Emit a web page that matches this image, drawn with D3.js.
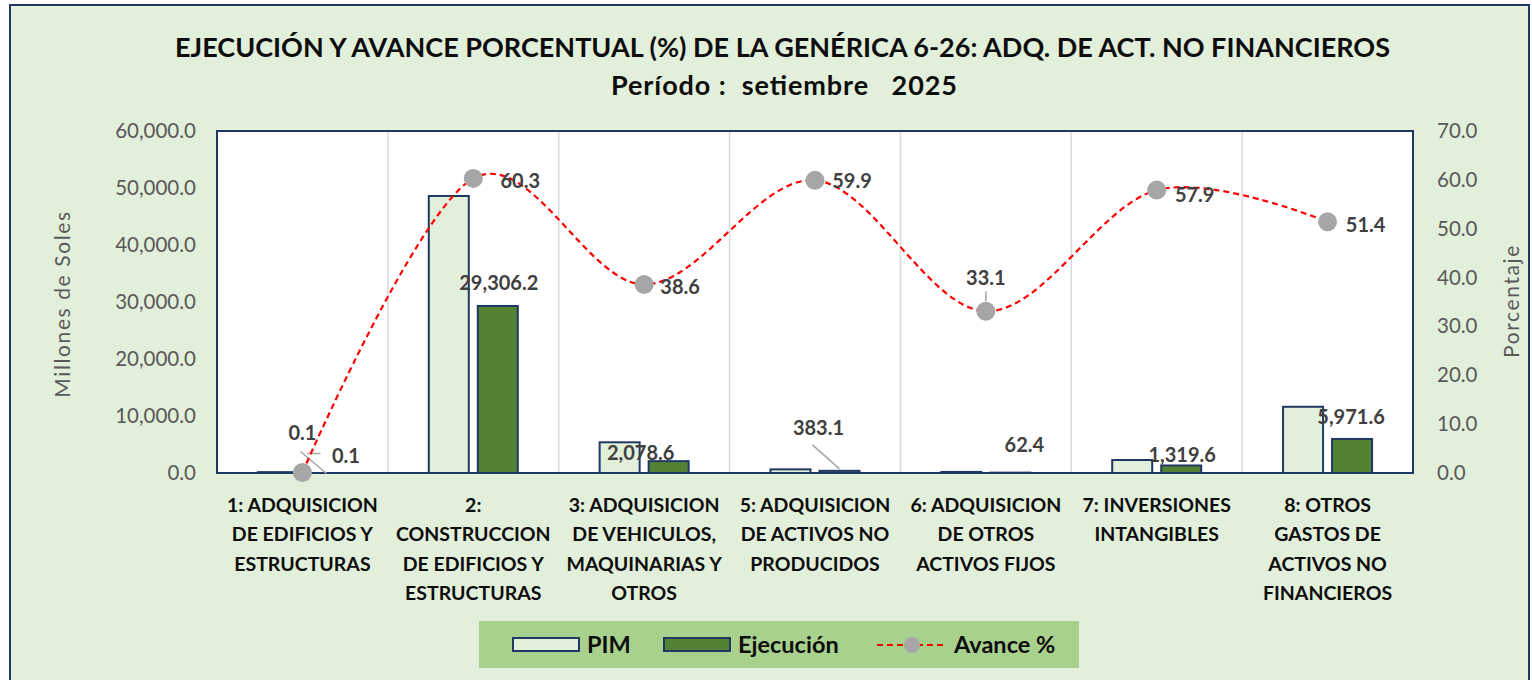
<!DOCTYPE html>
<html>
<head>
<meta charset="utf-8">
<script src="https://cdn.jsdelivr.net/npm/d3@7"></script>
<style>
  body { margin: 0; background: #fff; }
  svg text { font-family: Lato, 'Open Sans', sans-serif; }
</style>
</head>
<body>
<div id="chart"></div>
<script>
// categories (multi-line labels) and values, millones de soles
const categories = [
  ['1: ADQUISICION', 'DE EDIFICIOS Y', 'ESTRUCTURAS'],
  ['2:', 'CONSTRUCCION', 'DE EDIFICIOS Y', 'ESTRUCTURAS'],
  ['3: ADQUISICION', 'DE VEHICULOS,', 'MAQUINARIAS Y', 'OTROS'],
  ['5: ADQUISICION', 'DE ACTIVOS NO', 'PRODUCIDOS'],
  ['6: ADQUISICION', 'DE OTROS', 'ACTIVOS FIJOS'],
  ['7: INVERSIONES', 'INTANGIBLES'],
  ['8: OTROS', 'GASTOS DE', 'ACTIVOS NO', 'FINANCIEROS']
];
const pim = [150, 48600, 5385, 640, 189, 2279, 11618];
const ejecucion = [0.1, 29306.2, 2078.6, 383.1, 62.4, 1319.6, 5971.6];
const avance = [0.1, 60.3, 38.6, 59.9, 33.1, 57.9, 51.4];
const leftTicks = [0, 10000, 20000, 30000, 40000, 50000, 60000];
const rightTicks = [0, 10, 20, 30, 40, 50, 60, 70];

// label offsets (relative to anchor point) for the data labels
const ejecLabelPos = [[19, -18], [1, -24], [-28, -9], [-21, -44], [14, -29], [1, -11], [-1, -23]];
const avLabelPos = [[0, -41], [47, 2], [36, 2], [37, 0], [0, -34], [38, 4], [38, 2]];

(function () {
  const W = 1532, H = 680;
  const m = { left: 217, right: 1413, top: 131, bottom: 473 };
  const navy = '#1F3864';

  const svg = d3.select('#chart').append('svg').attr('width', W).attr('height', H);

  svg.append('rect').attr('x', 10).attr('y', 5).attr('width', 1519).attr('height', 700)
    .attr('fill', '#E2EFDA').attr('stroke', navy).attr('stroke-width', 2);

  // titles
  svg.append('text').attr('x', 782.5).attr('y', 57).attr('text-anchor', 'middle')
    .style('font-size', '27px').style('font-weight', 'bold').attr('fill', '#0D0D0D')
    .attr('textLength', 1215).attr('lengthAdjust', 'spacing')
    .text('EJECUCIÓN Y AVANCE PORCENTUAL (%) DE LA GENÉRICA 6-26: ADQ. DE ACT. NO FINANCIEROS');
  svg.append('text').attr('x', 784).attr('y', 95).attr('text-anchor', 'middle')
    .style('font-size', '27px').style('font-weight', 'bold').attr('fill', '#0D0D0D')
    .attr('textLength', 346).attr('lengthAdjust', 'spacing')
    .style('white-space', 'pre').text('Período :  setiembre   2025');

  const x0 = d3.scaleBand().domain(d3.range(categories.length)).range([m.left, m.right]);
  const cw = x0.bandwidth();
  const x1 = d3.scaleBand().domain(['pim', 'ejec']).range([cw / 2 - 44.5, cw / 2 + 44.5]).paddingInner(0.1837);
  const yL = d3.scaleLinear().domain([0, 60000]).range([m.bottom, m.top]);
  const yR = d3.scaleLinear().domain([0, 70]).range([m.bottom, m.top]);

  // plot area
  svg.append('rect').attr('x', m.left).attr('y', m.top).attr('width', m.right - m.left).attr('height', m.bottom - m.top)
    .attr('fill', '#fff');

  // vertical category separators
  svg.append('g').selectAll('line').data(d3.range(1, categories.length)).join('line')
    .attr('x1', d => x0(d)).attr('x2', d => x0(d)).attr('y1', m.top).attr('y2', m.bottom)
    .attr('stroke', '#D9D9D9').attr('stroke-width', 1.5);

  // axes
  const axL = svg.append('g').attr('transform', `translate(${m.left},0)`)
    .call(d3.axisLeft(yL).tickValues(leftTicks).tickFormat(d3.format(',.1f')).tickSize(0).tickPadding(21));
  const axR = svg.append('g').attr('transform', `translate(${m.right},0)`)
    .call(d3.axisRight(yR).tickValues(rightTicks).tickFormat(d3.format('.1f')).tickSize(0).tickPadding(24));
  [axL, axR].forEach(a => {
    a.select('.domain').remove();
    a.selectAll('text').style('font-size', '20.5px').attr('fill', '#595959').style('font-family', 'Lato, sans-serif');
  });

  svg.append('text').attr('transform', 'translate(70,304) rotate(-90)').attr('text-anchor', 'middle')
    .style('font-size', '21px').style('letter-spacing', '1.6px').attr('fill', '#595959').text('Millones de Soles');
  svg.append('text').attr('transform', 'translate(1519,301) rotate(-90)').attr('text-anchor', 'middle')
    .style('font-size', '21px').style('letter-spacing', '1.6px').attr('fill', '#595959').text('Porcentaje');

  // bars
  const g = svg.append('g');
  g.selectAll('rect.pim').data(pim).join('rect').attr('class', 'pim')
    .attr('x', (d, i) => x0(i) + x1('pim')).attr('width', x1.bandwidth())
    .attr('y', d => yL(d)).attr('height', d => m.bottom - yL(d))
    .attr('fill', '#E2EFDA').attr('stroke', navy).attr('stroke-width', 2);
  g.selectAll('rect.ejec').data(ejecucion).join('rect').attr('class', 'ejec')
    .attr('x', (d, i) => x0(i) + x1('ejec')).attr('width', x1.bandwidth())
    .attr('y', d => yL(d)).attr('height', d => m.bottom - yL(d))
    .attr('fill', '#548235').attr('stroke', navy).attr('stroke-width', 2);

  // plot border
  svg.append('rect').attr('x', m.left).attr('y', m.top).attr('width', m.right - m.left).attr('height', m.bottom - m.top)
    .attr('fill', 'none').attr('stroke', navy).attr('stroke-width', 2);

  // leader lines
  const lead = svg.append('g').attr('stroke', '#A6A6A6').attr('stroke-width', 1.5);
  const ex = i => x0(i) + x1('ejec') + x1.bandwidth() / 2;
  const cx = i => x0(i) + cw / 2;
  lead.append('line').attr('x1', cx(0) - 2).attr('y1', yR(avance[0]) - 21).attr('x2', cx(0) + 24).attr('y2', yR(avance[0]) + 1);
  lead.append('line').attr('x1', cx(0) + 5).attr('y1', yR(avance[0]) - 19).attr('x2', cx(0) + 18).attr('y2', yR(avance[0]) - 19);
  lead.append('line').attr('x1', ex(3) - 27).attr('y1', yL(ejecucion[3]) - 26).attr('x2', ex(3)).attr('y2', yL(ejecucion[3]) - 2);
  lead.append('line').attr('x1', cx(4)).attr('y1', yR(avance[4]) - 20).attr('x2', cx(4)).attr('y2', yR(avance[4]) - 10);

  // avance line
  const line = d3.line().x((d, i) => cx(i)).y(d => yR(d)).curve(d3.curveCardinal.tension(0));
  svg.append('path').datum(avance).attr('d', line).attr('fill', 'none')
    .attr('stroke', '#FF0000').attr('stroke-width', 2.2).attr('stroke-dasharray', '6,4');
  svg.append('g').selectAll('circle').data(avance).join('circle')
    .attr('cx', (d, i) => cx(i)).attr('cy', d => yR(d)).attr('r', 9.5).attr('fill', '#A6A6A6');

  // data labels
  const lbl = svg.append('g').style('font-size', '20px').style('font-weight', 'bold').attr('fill', '#404040')
    .attr('text-anchor', 'middle').attr('dominant-baseline', 'central');
  lbl.selectAll('text.ej').data(ejecucion).join('text').attr('class', 'ej')
    .attr('x', (d, i) => ex(i) + ejecLabelPos[i][0]).attr('y', (d, i) => yL(d) + ejecLabelPos[i][1])
    .text(d => d3.format(',.1f')(d));
  lbl.selectAll('text.av').data(avance).join('text').attr('class', 'av')
    .attr('x', (d, i) => cx(i) + avLabelPos[i][0]).attr('y', (d, i) => yR(d) + avLabelPos[i][1])
    .text(d => d3.format('.1f')(d));

  // category labels
  const xl = svg.append('g').style('font-size', '19.5px').style('font-weight', 'bold').attr('fill', '#0D0D0D')
    .attr('text-anchor', 'middle');
  categories.forEach((lines, i) => {
    const t = xl.append('text').attr('x', cx(i)).attr('y', 512);
    lines.forEach((s, k) => t.append('tspan').attr('x', cx(i)).attr('dy', k ? 29.3 : 0).text(s));
  });

  // legend
  const lg = svg.append('g');
  lg.append('rect').attr('x', 479).attr('y', 621).attr('width', 600).attr('height', 47).attr('fill', '#A9D18E');
  const items = [
    { type: 'bar', fill: '#E2EFDA', label: 'PIM', x: 513 },
    { type: 'bar', fill: '#548235', label: 'Ejecución', x: 664 },
    { type: 'line', label: 'Avance %', x: 877 }
  ];
  items.forEach(it => {
    if (it.type === 'bar') {
      lg.append('rect').attr('x', it.x).attr('y', 638).attr('width', 66).attr('height', 13)
        .attr('fill', it.fill).attr('stroke', navy).attr('stroke-width', 2);
      lg.append('text').attr('x', it.x + 74).attr('y', 653).style('font-size', '23.5px').style('font-weight', 'bold')
        .attr('fill', '#0D0D0D').text(it.label);
    } else {
      lg.append('line').attr('x1', it.x).attr('x2', it.x + 69).attr('y1', 645).attr('y2', 645)
        .attr('stroke', '#FF0000').attr('stroke-width', 2.2).attr('stroke-dasharray', '6,4');
      lg.append('circle').attr('cx', it.x + 35).attr('cy', 645).attr('r', 8).attr('fill', '#A6A6A6');
      lg.append('text').attr('x', it.x + 77).attr('y', 653).style('font-size', '23.5px').style('font-weight', 'bold')
        .attr('fill', '#0D0D0D').text(it.label);
    }
  });
})();
</script>
</body>
</html>
